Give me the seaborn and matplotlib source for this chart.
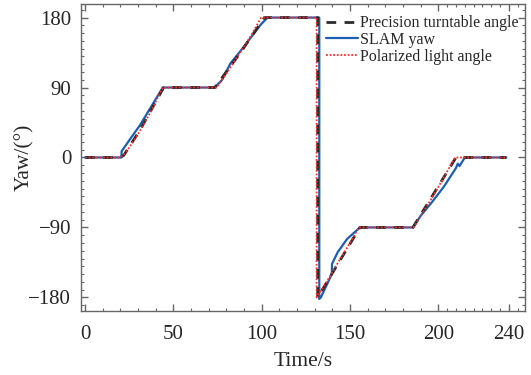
import numpy as np
import pandas as pd
import matplotlib
matplotlib.use("Agg")
import matplotlib.pyplot as plt
from matplotlib.ticker import FixedLocator, MultipleLocator
import seaborn as sns

# Stützpunkte der drei Kurven
turntable_t = [0, 20, 22, 31, 44.5, 73.5, 88, 101.5, 131.7, 131.7, 155.6, 185.6, 210, 238.5]
turntable_yaw = [0, 0, 3, 35, 90, 90, 135, 180, 180, -180, -90, -90, 0, 0]

slam_t = [0, 20.6, 20.7, 26.4, 31.1, 36.8, 44, 73.3, 77.5, 82.3, 88, 99.5, 103.3, 132.6, 132.6,
          133.5, 139.7, 139.8, 143, 148.3, 155.6, 185.6, 190, 196.2, 203, 210, 211, 212, 215, 238.5]
slam_yaw = [0, 0, 8, 26.5, 41.5, 63, 90, 90, 99.6, 121, 137, 171, 180, 180, -182,
            -180, -150, -137, -122, -105, -90, -90, -75, -58, -38, -13.5, -8, -11, 0, 0]

polar_t = [0, 20, 23, 30, 37, 44, 74.5, 80, 88, 94, 99.7, 131.1, 131.1, 136, 143, 150, 155, 186,
           192, 198, 204, 209.5, 238.5]
polar_yaw = [0, 0, 6, 30, 58, 90, 90, 108, 136, 157, 180, 180, -180, -163, -136, -110, -90, -90,
             -68, -46, -22, 0, 0]

x_major = [0, 50, 100, 150, 200, 240]
y_major = [-180, -90, 0, 90, 180]

sns.set_style("ticks")
plt.rcParams["font.family"] = ["Liberation Serif", "DejaVu Serif"]

fig = plt.figure(figsize=(5.31, 3.75), dpi=100)
ax = fig.add_axes([0.1525, 0.1707, 0.836, 0.8187])

sns.lineplot(x=slam_t, y=slam_yaw, ax=ax, estimator=None, sort=False,
             color="#1a5fb4", linewidth=1.6, zorder=2)
sns.lineplot(x=turntable_t, y=turntable_yaw, ax=ax, estimator=None, sort=False,
             color="#2b2b2b", linewidth=2.0, linestyle=(0, (3.5, 3)), zorder=3)
sns.lineplot(x=polar_t, y=polar_yaw, ax=ax, estimator=None, sort=False,
             color="#ff2a2a", linewidth=1.3, linestyle=(0, (1, 1)), zorder=4)

l_slam, l_turn, l_pol = ax.get_lines()[:3]

ax.set_xlim(-2.3, 249)
ax.set_ylim(-197.5, 197.5)
ax.xaxis.set_major_locator(FixedLocator(x_major))
ax.xaxis.set_minor_locator(FixedLocator(list(range(0, 200, 10)) + list(range(200, 250, 5))))
ax.yaxis.set_major_locator(FixedLocator(y_major))
ax.yaxis.set_minor_locator(MultipleLocator(10))

for s in ax.spines.values():
    s.set_color("#666666")
    s.set_linewidth(1.0)
ax.tick_params(which="both", direction="in", top=True, right=True, color="#666666")
ax.tick_params(which="major", length=5, width=1.0, labelsize=15)
ax.tick_params(axis="x", which="major", pad=10)
ax.tick_params(axis="y", which="major", pad=7)
ax.tick_params(which="minor", length=2.5, width=0.8)

ax.set_xlabel("Time/s", fontsize=15.5, labelpad=6)
ax.set_ylabel("Yaw/(°)", fontsize=15.5)
ax.yaxis.set_label_coords(-0.105, 0.5)

ax.legend([l_turn, l_slam, l_pol],
          ["Precision turntable angle", "SLAM yaw", "Polarized light angle"],
          loc="upper right", bbox_to_anchor=(1.01, 1.0), frameon=False, fontsize=11.5,
          handlelength=2.0, handletextpad=0.1, labelspacing=0.05, borderaxespad=0.3)

fig.savefig("out.png", dpi=100)
